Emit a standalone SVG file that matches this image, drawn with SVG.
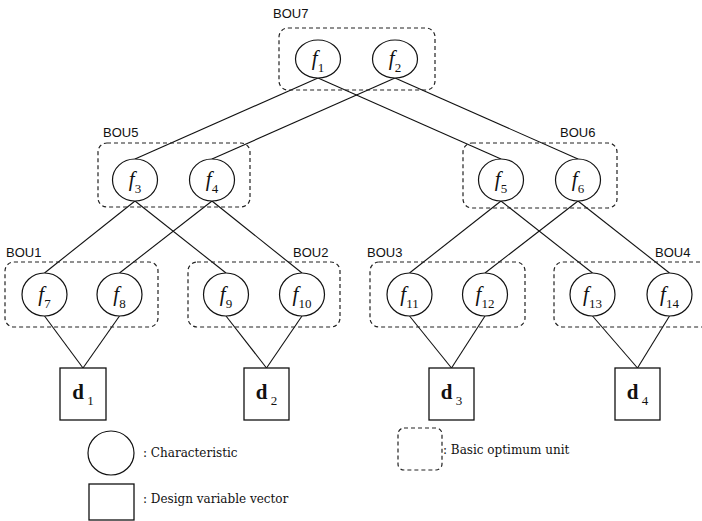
<svg xmlns="http://www.w3.org/2000/svg" width="702" height="521" viewBox="0 0 702 521">
<style>
.bg{fill:#fff}
.unit{fill:none;stroke:#222;stroke-width:1.2;stroke-dasharray:4 3}
.ch{fill:#fff;stroke:#111;stroke-width:1.2}
.dv{fill:#fff;stroke:#111;stroke-width:1.3}
.lbl{font-family:"Liberation Sans",Arial,sans-serif;font-size:13px;fill:#111}
.fl{font-family:"Liberation Serif","Times New Roman",serif;fill:#111;text-anchor:middle}
.fi{font-style:italic;font-size:21px}
.sub{font-size:13px}
.db{font-weight:bold;font-size:21px}
.leg{font-family:"DejaVu Serif","Liberation Serif",serif;font-size:12px;fill:#111}
#connectors line{stroke:#111;stroke-width:1.1}
</style>
<rect class="bg" x="0" y="0" width="702" height="521"/>

<g id="connectors">
  <line x1="318" y1="78" x2="135" y2="159"/>
  <line x1="318" y1="78" x2="501" y2="159"/>
  <line x1="395" y1="78" x2="212" y2="159"/>
  <line x1="395" y1="78" x2="578" y2="159"/>
  <line x1="135" y1="201" x2="44.5" y2="273"/>
  <line x1="135" y1="201" x2="226" y2="273"/>
  <line x1="212" y1="201" x2="119.5" y2="273"/>
  <line x1="212" y1="201" x2="302" y2="273"/>
  <line x1="501" y1="201" x2="409.5" y2="273"/>
  <line x1="501" y1="201" x2="592.5" y2="273"/>
  <line x1="578" y1="201" x2="485" y2="273"/>
  <line x1="578" y1="201" x2="669.5" y2="273"/>
  <line x1="44.5" y1="316" x2="83" y2="368"/>
  <line x1="119.5" y1="316" x2="83" y2="368"/>
  <line x1="226" y1="316" x2="266.5" y2="368"/>
  <line x1="302" y1="316" x2="266.5" y2="368"/>
  <line x1="409.5" y1="316" x2="451.5" y2="368"/>
  <line x1="485" y1="316" x2="451.5" y2="368"/>
  <line x1="592.5" y1="316" x2="637.5" y2="368"/>
  <line x1="669.5" y1="316" x2="637.5" y2="368"/>
</g>

<g id="BOU7">
  <rect class="unit" x="279" y="28" width="156" height="62" rx="9"/>
  <text class="lbl" x="273" y="18">BOU7</text>
</g>
<g id="BOU5">
  <rect class="unit" x="98" y="143" width="152" height="64" rx="9"/>
  <text class="lbl" x="103" y="137">BOU5</text>
</g>
<g id="BOU6">
  <rect class="unit" x="463" y="143" width="154" height="65" rx="9"/>
  <text class="lbl" x="560" y="137">BOU6</text>
</g>
<g id="BOU1">
  <rect class="unit" x="5" y="262" width="153" height="65" rx="9"/>
  <text class="lbl" x="6" y="257">BOU1</text>
</g>
<g id="BOU2">
  <rect class="unit" x="188" y="262" width="152" height="65" rx="9"/>
  <text class="lbl" x="293" y="257">BOU2</text>
</g>
<g id="BOU3">
  <rect class="unit" x="370" y="262" width="155" height="65" rx="9"/>
  <text class="lbl" x="367" y="257">BOU3</text>
</g>
<g id="BOU4">
  <rect class="unit" x="554" y="262" width="160" height="65" rx="9"/>
  <text class="lbl" x="655" y="257">BOU4</text>
</g>

<g id="f1"><ellipse class="ch" cx="318" cy="59" rx="22.5" ry="19"/><text class="fl" x="318" y="65"><tspan class="fi">f</tspan><tspan class="sub" dy="7">1</tspan></text></g>
<g id="f2"><ellipse class="ch" cx="395" cy="59" rx="22.5" ry="19"/><text class="fl" x="395" y="65"><tspan class="fi">f</tspan><tspan class="sub" dy="7">2</tspan></text></g>
<g id="f3"><ellipse class="ch" cx="135" cy="180" rx="22.5" ry="21"/><text class="fl" x="135" y="186"><tspan class="fi">f</tspan><tspan class="sub" dy="7">3</tspan></text></g>
<g id="f4"><ellipse class="ch" cx="212" cy="180" rx="22.5" ry="21"/><text class="fl" x="212" y="186"><tspan class="fi">f</tspan><tspan class="sub" dy="7">4</tspan></text></g>
<g id="f5"><ellipse class="ch" cx="501" cy="180" rx="22.5" ry="21"/><text class="fl" x="501" y="186"><tspan class="fi">f</tspan><tspan class="sub" dy="7">5</tspan></text></g>
<g id="f6"><ellipse class="ch" cx="578" cy="180" rx="22.5" ry="21"/><text class="fl" x="578" y="186"><tspan class="fi">f</tspan><tspan class="sub" dy="7">6</tspan></text></g>
<g id="f7"><ellipse class="ch" cx="44.5" cy="294.5" rx="22.5" ry="21.5"/><text class="fl" x="44.5" y="301"><tspan class="fi">f</tspan><tspan class="sub" dy="7">7</tspan></text></g>
<g id="f8"><ellipse class="ch" cx="119.5" cy="294.5" rx="22.5" ry="21.5"/><text class="fl" x="119.5" y="301"><tspan class="fi">f</tspan><tspan class="sub" dy="7">8</tspan></text></g>
<g id="f9"><ellipse class="ch" cx="226" cy="294.5" rx="22.5" ry="21.5"/><text class="fl" x="226" y="301"><tspan class="fi">f</tspan><tspan class="sub" dy="7">9</tspan></text></g>
<g id="f10"><ellipse class="ch" cx="302" cy="294.5" rx="22.5" ry="21.5"/><text class="fl" x="302" y="301"><tspan class="fi">f</tspan><tspan class="sub" dy="7">10</tspan></text></g>
<g id="f11"><ellipse class="ch" cx="409.5" cy="294.5" rx="22.5" ry="21.5"/><text class="fl" x="409.5" y="301"><tspan class="fi">f</tspan><tspan class="sub" dy="7">11</tspan></text></g>
<g id="f12"><ellipse class="ch" cx="485" cy="294.5" rx="22.5" ry="21.5"/><text class="fl" x="485" y="301"><tspan class="fi">f</tspan><tspan class="sub" dy="7">12</tspan></text></g>
<g id="f13"><ellipse class="ch" cx="592.5" cy="294.5" rx="22.5" ry="21.5"/><text class="fl" x="592.5" y="301"><tspan class="fi">f</tspan><tspan class="sub" dy="7">13</tspan></text></g>
<g id="f14"><ellipse class="ch" cx="669.5" cy="294.5" rx="22.5" ry="21.5"/><text class="fl" x="669.5" y="301"><tspan class="fi">f</tspan><tspan class="sub" dy="7">14</tspan></text></g>

<g id="d1"><rect class="dv" x="60" y="368" width="46" height="52"/><text class="fl" x="83" y="399"><tspan class="db">d</tspan><tspan class="sub" dy="6"> 1</tspan></text></g>
<g id="d2"><rect class="dv" x="244" y="368" width="45" height="52"/><text class="fl" x="266.5" y="399"><tspan class="db">d</tspan><tspan class="sub" dy="6"> 2</tspan></text></g>
<g id="d3"><rect class="dv" x="429" y="368" width="45" height="52"/><text class="fl" x="451.5" y="399"><tspan class="db">d</tspan><tspan class="sub" dy="6"> 3</tspan></text></g>
<g id="d4"><rect class="dv" x="615" y="368" width="45" height="52"/><text class="fl" x="637.5" y="399"><tspan class="db">d</tspan><tspan class="sub" dy="6"> 4</tspan></text></g>

<g id="legend">
  <ellipse class="ch" cx="111" cy="453" rx="23" ry="22"/>
  <text class="leg" x="143" y="457">: Characteristic</text>
  <rect class="dv" x="89" y="484" width="45" height="36"/>
  <text class="leg" x="143" y="503">: Design variable vector</text>
  <rect class="unit" x="398" y="428" width="44" height="42" rx="6"/>
  <text class="leg" x="443" y="454">: Basic optimum unit</text>
</g>
</svg>
